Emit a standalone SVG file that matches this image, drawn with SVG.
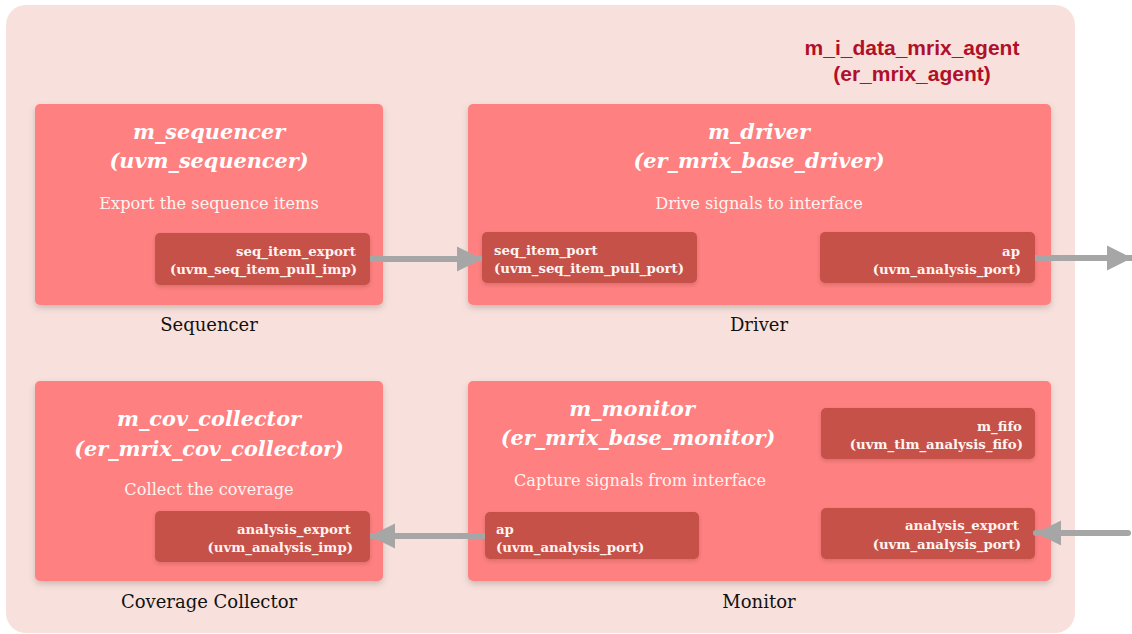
<svg xmlns="http://www.w3.org/2000/svg" width="1132" height="634" viewBox="0 0 1132 634">
<style>
.box{fill:#FF8080;filter:url(#sh)}
.port{fill:#C5514A;filter:url(#sh2)}
.title{font-family:"DejaVu Serif","Liberation Serif",serif;font-weight:bold;font-style:italic;font-size:20.8px;fill:#FFFFFF;text-anchor:middle}
.desc{font-family:"DejaVu Serif","Liberation Serif",serif;font-size:16.2px;fill:#FFF3F0;text-anchor:middle}
.pt{font-family:"DejaVu Serif","Liberation Serif",serif;font-weight:bold;font-size:13.3px;fill:#FFF3F0}
.lbl{font-family:"DejaVu Serif","Liberation Serif",serif;font-size:18px;fill:#111111;text-anchor:middle}
.agent{font-family:"Liberation Sans",Arial,sans-serif;font-weight:bold;font-size:21px;fill:#B0102A;text-anchor:middle}
.conn{stroke:#A6A6A6;stroke-width:6;fill:none}
</style>
<defs>
<filter id="sh" x="-10%" y="-10%" width="120%" height="130%">
<feDropShadow dx="0" dy="3" stdDeviation="3" flood-color="#000" flood-opacity="0.18"/>
</filter>
<filter id="sh2" x="-10%" y="-20%" width="120%" height="150%">
<feDropShadow dx="0" dy="2" stdDeviation="2" flood-color="#000" flood-opacity="0.15"/>
</filter>
<marker id="ah" viewBox="0 0 10 10" refX="10" refY="5" markerWidth="4.2" markerHeight="4.2" markerUnits="strokeWidth" orient="auto">
<path d="M0,0 L10,5 L0,10 z" fill="#A6A6A6"/>
</marker>
</defs>
<rect x="6" y="5" width="1069" height="628" rx="20" fill="#F8E1DC"/>
<g id="agent-title">
<text class="agent" x="912" y="55">m_i_data_mrix_agent</text>
<text class="agent" x="912" y="81">(er_mrix_agent)</text>
</g>
<g id="sequencer">
<rect class="box" x="35" y="104" width="348" height="201" rx="5"/>
<text class="title" x="209" y="139">m_sequencer</text>
<text class="title" x="209" y="168">(uvm_sequencer)</text>
<text class="desc" x="209" y="209">Export the sequence items</text>
<rect class="port" x="155" y="233" width="215" height="52" rx="5"/>
<text class="pt" x="356" y="256" text-anchor="end">seq_item_export</text>
<text class="pt" x="357" y="274" text-anchor="end">(uvm_seq_item_pull_imp)</text>
<text class="lbl" x="209" y="331">Sequencer</text>
</g>
<g id="driver">
<rect class="box" x="468" y="104" width="583" height="201" rx="5"/>
<text class="title" x="759" y="139">m_driver</text>
<text class="title" x="759" y="168">(er_mrix_base_driver)</text>
<text class="desc" x="759" y="209">Drive signals to interface</text>
<rect class="port" x="482" y="232" width="215" height="51" rx="5"/>
<text class="pt" x="494" y="255">seq_item_port</text>
<text class="pt" x="494" y="273">(uvm_seq_item_pull_port)</text>
<rect class="port" x="820" y="232" width="215" height="51" rx="5"/>
<text class="pt" x="1020" y="256" text-anchor="end">ap</text>
<text class="pt" x="1021" y="274" text-anchor="end">(uvm_analysis_port)</text>
<text class="lbl" x="759" y="331">Driver</text>
</g>
<g id="cov_collector">
<rect class="box" x="35" y="381" width="348" height="200" rx="5"/>
<text class="title" x="209" y="426">m_cov_collector</text>
<text class="title" x="209" y="456">(er_mrix_cov_collector)</text>
<text class="desc" x="209" y="495">Collect the coverage</text>
<rect class="port" x="155" y="511" width="215" height="51" rx="5"/>
<text class="pt" x="351" y="534" text-anchor="end">analysis_export</text>
<text class="pt" x="353" y="552" text-anchor="end">(uvm_analysis_imp)</text>
<text class="lbl" x="209" y="608">Coverage Collector</text>
</g>
<g id="monitor">
<rect class="box" x="468" y="381" width="583" height="200" rx="5"/>
<text class="title" x="632" y="416">m_monitor</text>
<text class="title" x="638" y="445">(er_mrix_base_monitor)</text>
<text class="desc" x="640" y="486">Capture signals from interface</text>
<rect class="port" x="485" y="512" width="214" height="47" rx="5"/>
<text class="pt" x="496" y="534">ap</text>
<text class="pt" x="496" y="552">(uvm_analysis_port)</text>
<rect class="port" x="821" y="408" width="214" height="51" rx="5"/>
<text class="pt" x="1022" y="431" text-anchor="end">m_fifo</text>
<text class="pt" x="1023" y="449" text-anchor="end">(uvm_tlm_analysis_fifo)</text>
<rect class="port" x="821" y="508" width="214" height="51" rx="5"/>
<text class="pt" x="1019" y="530" text-anchor="end">analysis_export</text>
<text class="pt" x="1021" y="549" text-anchor="end">(uvm_analysis_port)</text>
<text class="lbl" x="759" y="608">Monitor</text>
</g>
<g id="connectors">
<line class="conn" x1="370" y1="259" x2="482" y2="259" marker-end="url(#ah)"/>
<line class="conn" x1="1035" y1="258" x2="1132" y2="258" marker-end="url(#ah)"/>
<line class="conn" x1="485" y1="536" x2="370" y2="536" marker-end="url(#ah)"/>
<line class="conn" x1="1128" y1="533" x2="1036" y2="533" stroke-linecap="round" marker-end="url(#ah)"/>
</g>
</svg>
